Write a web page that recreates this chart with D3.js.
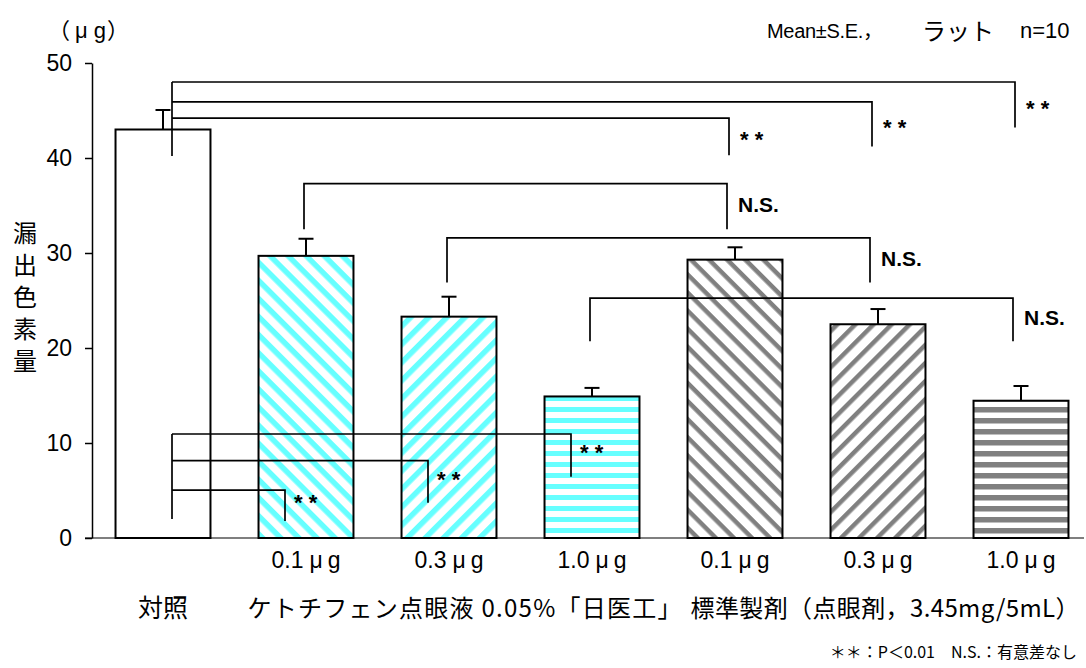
<!DOCTYPE html>
<html><head><meta charset="utf-8">
<script src="https://cdn.jsdelivr.net/npm/d3@7"></script>
<style>body{margin:0;background:#fff} svg{display:block}</style>
</head><body><svg id="c" width="1086" height="668"></svg>
<script>
// ---------- data ----------
const groupLabels = ["対照", "ケトチフェン点眼液 0.05%「日医工」", "標準製剤（点眼剤，3.45mg/5mL）"];
const doseLabels = ["", "0.1", "0.3", "1.0", "0.1", "0.3", "1.0"];
const means  = [43.0, 29.7, 23.3, 14.9, 29.3, 22.5, 14.45];
const errors = [2.05, 1.8, 2.1, 0.9, 1.3, 1.6, 1.55];
const yTicks = [0, 10, 20, 30, 40, 50];
// significance brackets (levels in μg units)
const topBrackets    = [{to: 4, level: 44.2, end: 40.3}, {to: 5, level: 45.9, end: 41.2}, {to: 6, level: 48.0, end: 43.2}];
const topCommonEnd   = 40.2;
const nsBrackets     = [{from: 1, to: 4, level: 37.3, end: 32.5}, {from: 2, to: 5, level: 31.6, end: 26.9}, {from: 3, to: 6, level: 25.25, end: 20.7}];
const bottomBrackets = [{to: 1, level: 5.05, end: 1.8}, {to: 2, level: 8.14, end: 3.7}, {to: 3, level: 10.95, end: 6.45}];
const bottomCommonEnd = 2.0;
const sigLabel = "* *", nsLabel = "N.S.";
const unitLabel = ["（", "μ", "g", "）"];
const yTitle = "漏出色素量";
const statLabel = ["Mean±S.E.，", "ラット", "n=10"];
const footnote = "＊＊：P＜0.01　N.S.：有意差なし";

// ---------- styles ----------
const barPatterns = ["#fff", "url(#cyanBack)", "url(#cyanFwd)", "url(#cyanHoriz)", "url(#grayBack)", "url(#grayFwd)", "url(#grayHoriz)"];
const LAT = "'Liberation Sans', Arial, 'Noto Sans CJK JP', sans-serif";
const JP = "'Noto Sans CJK JP', 'Liberation Sans', sans-serif";

const svg = d3.select("#c");
const defs = svg.append("defs");
function stripe(id, color, angle, period, thick) {
  const p = defs.append("pattern").attr("id", id).attr("patternUnits", "userSpaceOnUse")
    .attr("width", period).attr("height", period).attr("patternTransform", `rotate(${angle})`);
  p.append("rect").attr("width", period).attr("height", period).attr("fill", "#fff");
  p.append("rect").attr("width", period).attr("height", thick).attr("fill", color);
}
stripe("cyanBack", "#66ffff", 45, 12.8, 5.5);
stripe("cyanFwd", "#66ffff", -45, 12.8, 5.5);
stripe("cyanHoriz", "#66ffff", 0, 11, 5);
stripe("grayBack", "#808080", 45, 12.8, 4.5);
stripe("grayFwd", "#808080", -45, 12.8, 4.5);
stripe("grayHoriz", "#808080", 0, 11, 5.5);

// ---------- scales ----------
const x = d3.scaleBand().domain(d3.range(means.length)).range([91.5, 1092.5]).paddingInner(0.336).paddingOuter(0.168);
const bw = x.bandwidth();
const cx = i => x(i) + bw / 2;
const y = d3.scaleLinear().domain([0, 50]).range([538, 63]);

// ---------- axes ----------
svg.append("line").attr("x1", 85).attr("x2", 1084).attr("y1", y(0)).attr("y2", y(0))
  .attr("stroke", "#555").attr("stroke-width", 1.6);

const yAxis = svg.append("g").attr("transform", "translate(92,0)")
  .call(d3.axisLeft(y).tickValues(yTicks).tickSize(7).tickPadding(13).tickSizeOuter(0));
yAxis.select(".domain").attr("stroke", "#000").attr("stroke-width", 1.5);
yAxis.selectAll(".tick line").attr("stroke", "#000").attr("stroke-width", 1.5);
yAxis.selectAll(".tick text").attr("font-family", LAT).attr("font-size", 23).attr("fill", "#000");

// ---------- bars ----------
svg.append("g").selectAll("rect").data(means).join("rect")
  .attr("x", (d, i) => x(i)).attr("y", d => y(d))
  .attr("width", bw).attr("height", d => y(0) - y(d))
  .attr("fill", (d, i) => barPatterns[i]).attr("stroke", "#000").attr("stroke-width", 2);

// error bars
const eb = svg.append("g").attr("stroke", "#000").attr("stroke-width", 2);
means.forEach((m, i) => {
  eb.append("line").attr("x1", cx(i)).attr("x2", cx(i)).attr("y1", y(m)).attr("y2", y(m + errors[i]));
  eb.append("line").attr("x1", cx(i) - 7.5).attr("x2", cx(i) + 7.5).attr("y1", y(m + errors[i])).attr("y2", y(m + errors[i]));
});

// ---------- brackets ----------
const br = svg.append("g").attr("stroke", "#000").attr("stroke-width", 1.7).attr("fill", "none");
const lbl = svg.append("g");
const ctrlX = cx(0) + 9;
function starText(xs, yc) {
  lbl.append("text").attr("x", xs).attr("y", yc + 0.58 * 22).attr("font-family", LAT)
    .attr("font-weight", "bold").attr("font-size", 22).text(sigLabel);
}
function nsText(xs, yc) {
  lbl.append("text").attr("x", xs).attr("y", yc + 0.36 * 21).attr("font-family", LAT)
    .attr("font-weight", "bold").attr("font-size", 21).text(nsLabel);
}
// top: control vs standard
br.append("line").attr("x1", ctrlX).attr("x2", ctrlX)
  .attr("y1", y(d3.max(topBrackets, d => d.level))).attr("y2", y(topCommonEnd));
topBrackets.forEach(b => {
  const rx = cx(b.to) - 6;
  br.append("path").attr("d", `M${ctrlX},${y(b.level)}H${rx}V${y(b.end)}`);
  starText(rx + 11, (y(b.level) + y(b.end)) / 2 - 2);
});
// N.S. brackets
nsBrackets.forEach(b => {
  const lx = cx(b.from) - 2, rx = cx(b.to) - 8;
  br.append("path").attr("d", `M${lx},${y(b.end)}V${y(b.level)}H${rx}V${y(b.end)}`);
  nsText(rx + 11, (y(b.level) + y(b.end)) / 2 - 2);
});
// bottom: control vs test
br.append("line").attr("x1", ctrlX).attr("x2", ctrlX)
  .attr("y1", y(d3.max(bottomBrackets, d => d.level))).attr("y2", y(bottomCommonEnd));
bottomBrackets.forEach(b => {
  const rx = cx(b.to) - 21;
  br.append("path").attr("d", `M${ctrlX},${y(b.level)}H${rx}V${y(b.end)}`);
  starText(rx + 9, (y(b.level) + y(b.end)) / 2 - 8);
});

// ---------- texts ----------
// dose labels
doseLabels.forEach((d, i) => {
  if (!d) return;
  const t = svg.append("text").attr("x", cx(i)).attr("y", y(0) + 30).attr("text-anchor", "middle")
    .attr("font-family", LAT).attr("font-size", 23).attr("fill", "#000");
  t.append("tspan").text(d);
  t.append("tspan").attr("dx", 6).text("μ");
  t.append("tspan").attr("dx", 5).text("g");
});
// group labels
svg.append("text").attr("x", cx(0)).attr("y", 617).attr("text-anchor", "middle")
  .attr("font-family", JP).attr("font-size", 25).text(groupLabels[0]);
svg.append("text").attr("x", x(1) - 11).attr("y", 617)
  .attr("font-family", JP).attr("font-size", 24)
  .attr("textLength", (x(4) - 6) - (x(1) - 11)).attr("lengthAdjust", "spacing").text(groupLabels[1]);
svg.append("text").attr("x", x(4) + 3).attr("y", 617)
  .attr("font-family", JP).attr("font-size", 24)
  .attr("textLength", (x(6) + bw + 11) - (x(4) + 3)).attr("lengthAdjust", "spacing").text(groupLabels[2]);
// footnote
svg.append("text").attr("x", 1077).attr("y", 658).attr("text-anchor", "end")
  .attr("font-family", JP).attr("font-size", 16).text(footnote);
// unit
const ut = svg.append("text").attr("x", 48).attr("y", 38).attr("font-family", LAT).attr("font-size", 22);
ut.append("tspan").attr("font-family", JP).text(unitLabel[0]);
ut.append("tspan").attr("dx", 5).text(unitLabel[1]);
ut.append("tspan").attr("dx", 6).text(unitLabel[2]);
ut.append("tspan").attr("dx", 1).attr("font-family", JP).text(unitLabel[3]);
// stats label
svg.append("text").attr("x", 767).attr("y", 38).attr("font-family", LAT).attr("font-size", 20)
  .attr("textLength", 116).attr("lengthAdjust", "spacing").text(statLabel[0]);
svg.append("text").attr("x", 922).attr("y", 40).attr("font-family", JP).attr("font-size", 24)
  .text(statLabel[1]);
svg.append("text").attr("x", 1020).attr("y", 38).attr("font-family", LAT).attr("font-size", 22)
  .text(statLabel[2]);
// y title (vertical)
const yt = svg.append("text").attr("font-family", JP).attr("font-size", 24).attr("text-anchor", "middle");
Array.from(yTitle).forEach((ch, i) => {
  yt.append("tspan").attr("x", 25).attr("y", 233 + 32 * i + 8.5).text(ch);
});
</script></body></html>
